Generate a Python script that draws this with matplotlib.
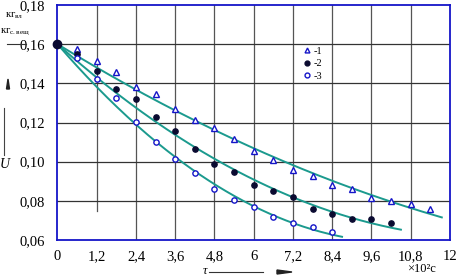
import numpy as np
import matplotlib
matplotlib.use("Agg")
import matplotlib.pyplot as plt
from matplotlib.lines import Line2D
from matplotlib.patches import Polygon

plt.rcParams["font.family"] = ["Liberation Serif", "DejaVu Serif"]

# drying curves, time in 10^2 s, moisture U in kg water / kg dry matter
t1 = [0.6, 1.2, 1.8, 2.4, 3.0, 3.6, 4.2, 4.8, 5.4, 6.0, 6.6, 7.2, 7.8, 8.4, 9.0, 9.6, 10.2, 10.8, 11.4]
u1 = [0.1575, 0.1513, 0.146, 0.138, 0.1343, 0.127, 0.1212, 0.117, 0.1115, 0.1056, 0.1007,
      0.0957, 0.0927, 0.088, 0.086, 0.0816, 0.0798, 0.0782, 0.0758]
t2 = [0.6, 1.2, 1.8, 2.4, 3.0, 3.6, 4.2, 4.8, 5.4, 6.0, 6.6, 7.2, 7.8, 8.4, 9.0, 9.6, 10.2]
u2 = [0.1548, 0.1464, 0.137, 0.1318, 0.1226, 0.1156, 0.1066, 0.099, 0.0947, 0.0881, 0.085,
      0.0818, 0.076, 0.0734, 0.0706, 0.0706, 0.0685]
t3 = [0.6, 1.2, 1.8, 2.4, 3.0, 3.6, 4.2, 4.8, 5.4, 6.0, 6.6, 7.2, 7.8, 8.4]
u3 = [0.1527, 0.142, 0.1323, 0.1204, 0.11, 0.1012, 0.0943, 0.0862, 0.0806, 0.077, 0.0716,
      0.0688, 0.0665, 0.064]
t0, u0 = 0.0, 0.16
curve_end = [11.75, 10.5, 8.7]
labels = ["-1", "-2", "-3"]

xticks = [0, 1.2, 2.4, 3.6, 4.8, 6, 7.2, 8.4, 9.6, 10.8, 12]
yticks = [0.06, 0.08, 0.10, 0.12, 0.14, 0.16, 0.18]

teal = "#1b9a8e"
blue = "#1515c8"

fig = plt.figure(figsize=(4.58, 2.76), dpi=100)
ax = fig.add_axes([0.1255, 0.1304, 0.857, 0.8515])
ax.set_xlim(0, 12)
ax.set_ylim(0.06, 0.18)

# grid: 1.2 line stops short of the bottom, as in the scan
for x in xticks[1:-1]:
    ymin = 0.125 if x == 1.2 else 0
    ax.axvline(x, ymin=ymin, color="#555555", lw=0.9, zorder=1)
for y in yticks[1:-1]:
    ax.axhline(y, color="#333333", lw=0.9, zorder=1)

series = [(t1, u1, "^", "white"), (t2, u2, "o", "#0a0a30"), (t3, u3, "o", "white")]
for (t, u, m, fc), tend in zip(series, curve_end):
    # quadratic trend pinned (by weight) to the common starting point
    tt = np.r_[t0, t]
    w = np.r_[20.0, np.ones(len(t))]
    coef = np.polyfit(tt, np.r_[u0, u], 2, w=w)
    xs = np.linspace(0, tend, 200)
    ax.plot(xs, np.polyval(coef, xs), color=teal, lw=1.4, zorder=2)
    ax.plot(t, u, ls="none", marker=m, ms=3.7 if m == "^" else 3.8, mfc=fc,
            mec=blue if fc == "white" else fc, mew=1.0, zorder=3)
ax.plot([t0], [u0], marker="o", ms=6, color="#0a0a30", zorder=4, clip_on=False)

handles = [Line2D([], [], ls="none", marker=m, ms=3.5, mfc=fc,
                  mec=blue if fc == "white" else fc, mew=1.0) for _, _, m, fc in series]
ax.legend(handles, labels, frameon=False, fontsize=7.5, loc="upper left",
          bbox_to_anchor=(0.615, 0.845), handlelength=0.6, handletextpad=0.3,
          labelspacing=0.3, borderpad=0)

for s in ax.spines.values():
    s.set_color(blue)
    s.set_linewidth(1.3)

ax.set_xticks(xticks)
ax.set_xticklabels([f"{x:g}".replace(".", ",") for x in xticks])
ax.set_yticks(yticks)
ax.set_yticklabels([f"{y:.2f}".replace(".", ",") for y in yticks])
ax.tick_params(length=0, labelsize=10.5, pad=7)
ax.tick_params(axis="y", pad=9)

# y-axis label: units fraction, arrow and U
fig.text(5 / 458, 1 - 16 / 276, r"$\mathregular{кг_{вл}}$", fontsize=7.5, va="center")
fig.text(0.5 / 458, 1 - 32 / 276, r"$\mathregular{кг_{с.вещ}}$", fontsize=7.5, va="center")
fig.add_artist(Line2D([7 / 458, 26 / 458], [1 - 44 / 276, 1 - 44 / 276], color="#333333", lw=0.8))
fig.add_artist(Polygon([[6.5 / 458, 1 - 89 / 276], [9.5 / 458, 1 - 89 / 276], [8 / 458, 1 - 79 / 276]],
                       closed=True, color="#222222"))
fig.add_artist(Line2D([4 / 458, 4 / 458], [1 - 108 / 276, 1 - 155 / 276], color="#444444", lw=0.8))
fig.text(5 / 458, 1 - 165 / 276, "U", fontsize=10, style="italic", ha="center", va="center")

# x-axis label
fig.text(205 / 458, 1 - 271 / 276, "τ", fontsize=9, style="italic", ha="center", va="center")
fig.add_artist(Line2D([209 / 458, 263 / 458], [1 - 272 / 276, 1 - 272 / 276], color="#333333", lw=0.8))
fig.add_artist(Polygon([[277 / 458, 1 - 270 / 276], [277 / 458, 1 - 274 / 276], [292 / 458, 1 - 272 / 276]],
                       closed=True, color="#222222"))
fig.text(421 / 458, 1 - 269 / 276, "×10²c", fontsize=9, ha="center", va="center")

fig.savefig("out.png", dpi=100)
